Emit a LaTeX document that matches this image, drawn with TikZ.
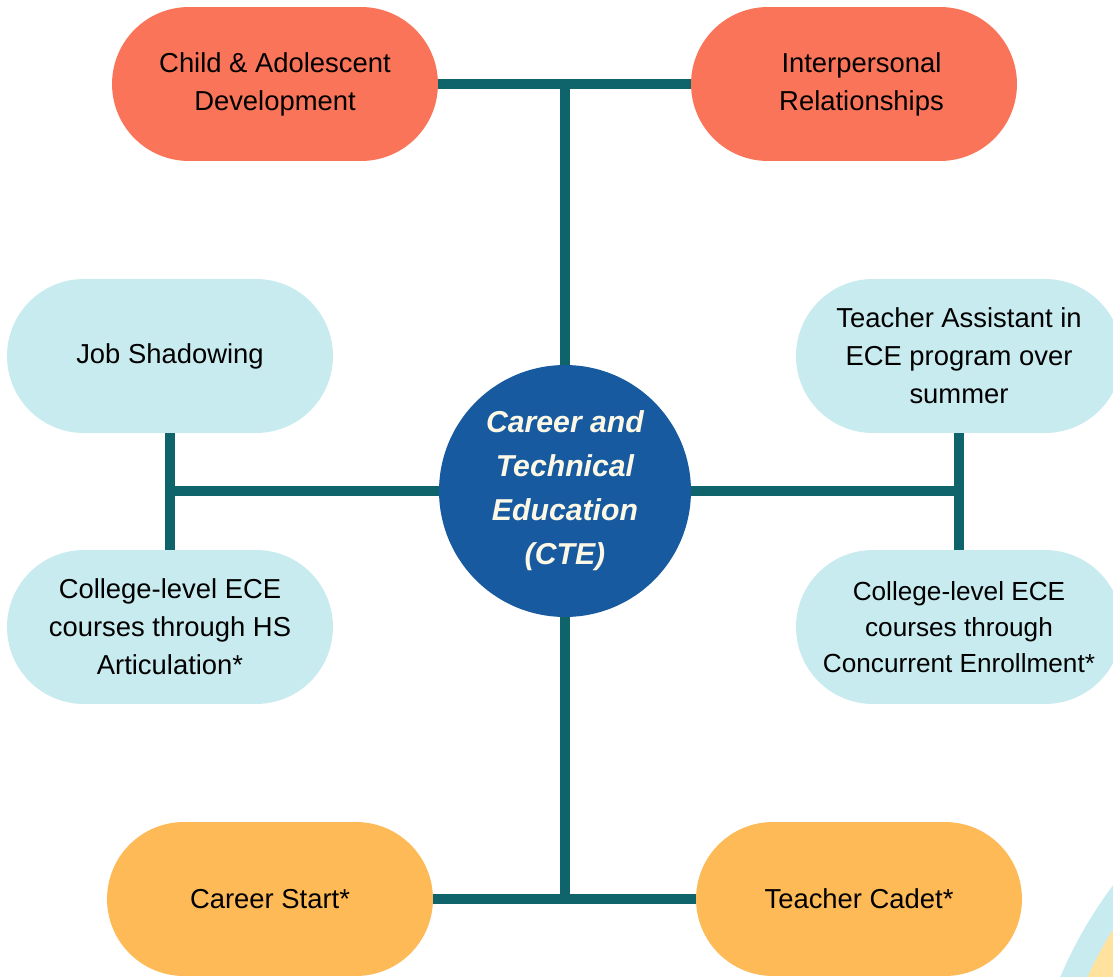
\documentclass[tikz,border=0pt]{standalone}
\usepackage{fontspec}
\setmainfont{Liberation Sans}
\usetikzlibrary{positioning}
\usetikzlibrary{math}
\usetikzlibrary{calc}

\definecolor{coral}{RGB}{250,116,89}
\definecolor{skyblue}{RGB}{200,235,239}
\definecolor{amber}{RGB}{254,186,87}
\definecolor{linkteal}{RGB}{14,100,106}
\definecolor{hubblue}{RGB}{23,90,160}
\definecolor{cream}{RGB}{253,248,230}
\definecolor{paleyellow}{RGB}{254,226,158}

\tikzset{
  pill/.style={rectangle, rounded corners=1.54cm, minimum width=6.52cm,
    minimum height=3.08cm, inner sep=0pt, align=center,
    font=\fontsize{15.6}{21.6}\selectfont},
  hub/.style={circle, fill=hubblue, text=cream, minimum size=5.04cm,
    inner sep=0pt, align=center,
    font=\fontsize{17.2}{25}\selectfont\bfseries\itshape},
  link/.style={draw=linkteal, line width=0.2cm},
}

\begin{document}
\begin{tikzpicture}[x=0.02cm,y=-0.02cm]

  \tikzmath{
    \ringout = 8.68; % outer radius of corner ring (cm)
    \ringin  = 8.18; % inner radius of corner ring (cm)
  }

  % page frame
  \clip (0,0) rectangle (1113,977);
  \fill[white] (0,0) rectangle (1113,977);

  % corner decoration
  \coordinate (D) at (1460,1146);
  \fill[skyblue] (D) circle [radius=\ringout cm];
  \fill[paleyellow] (D) circle [radius=\ringin cm];

  % central hub
  \node[hub] (cte) at (565,491) {Career and\\Technical\\Education\\(CTE)};

  % top row
  \node[pill, fill=coral] (child) at (275,84) {Child \& Adolescent\\Development};
  \node[pill, fill=coral] (inter) at (854,84) {\hspace*{0.3cm}Interpersonal\\\hspace*{0.3cm}Relationships};

  % middle rows
  \node[pill, fill=skyblue] (job) at (170,356) {Job Shadowing};
  \node[pill, fill=skyblue] (hs) at (170,627) {College-level ECE\\courses through HS\\Articulation*};
  \node[pill, fill=skyblue] (ta) at (959,356) {Teacher Assistant in\\ECE program over\\summer};
  \node[pill, fill=skyblue, font=\fontsize{14.9}{20.4}\selectfont] (ce) at (959,627)
    {College-level ECE\\courses through\\Concurrent Enrollment*};

  % bottom row
  \node[pill, fill=amber] (start) at (270,899) {Career Start*};
  \node[pill, fill=amber] (cadet) at (859,899) {Teacher Cadet*};

  % connectors
  \draw[link] (child.east) -- (inter.west);
  \draw[link] (cte.north) -- (cte.north |- child.east);

  \draw[link] (job.south) -- (hs.north);
  \draw[link] (cte.west) -- (cte.west -| job.south);

  \draw[link] (ta.south) -- (ce.north);
  \draw[link] (cte.east) -- (cte.east -| ta.south);

  \draw[link] (cte.south) -- (cte.south |- start.east);
  \draw[link] (start.east) -- (cadet.west);

\end{tikzpicture}
\end{document}
